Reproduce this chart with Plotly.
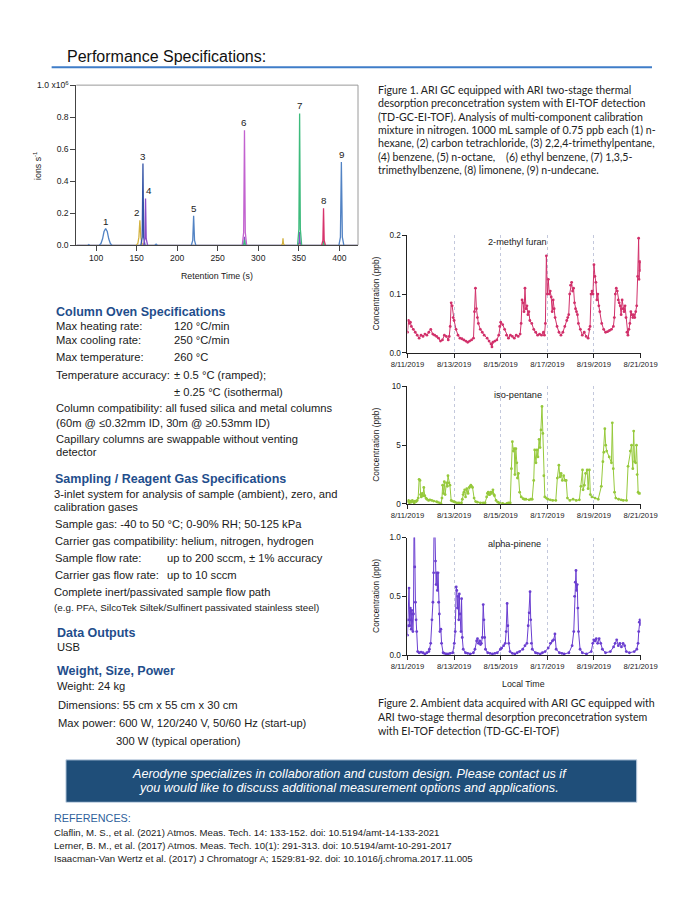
import plotly.graph_objects as go
import pandas as pd

W, H = 700, 906
OFF = 8  # page body margin of the browser
BODY = "Liberation Sans, Arial, sans-serif"
CAP = "Lato, sans-serif"


def px(x):
    return (x - OFF) / W


def py(y):
    return 1 - (y - OFF) / H


# ---------------- Chromatogram data (retention time s, ions/s x1e6) ----------------
chrom_xticks = [100, 150, 200, 250, 300, 350, 400]
chrom_yticks = [0.0, 0.2, 0.4, 0.6, 0.8, 1.0]
chrom_yticktext = ["0.0", "0.2", "0.4", "0.6", "0.8", "1.0 x10<sup>6</sup>"]

base_t = [75.7, 423]
base_v = [0, 0]

blue_t = [90, 91, 92, None, 104, 106, 108, 109.8, 111.8, 113.8, 115.6, 117.6, 119.5, None,
          172.5, 174, 175.5, None, 217.5, 219.2, 220.3, 221.4, 223, None,
          399.5, 401.3, 402.5, 403.7, 405.5]
blue_v = [0, 0.004, 0, None, 0, 0.01, 0.04, 0.085, 0.103, 0.085, 0.04, 0.01, 0, None,
          0, 0.007, 0, None, 0, 0.03, 0.183, 0.03, 0, None,
          0, 0.05, 0.52, 0.05, 0]
dblue_t = [155.3, 156.9, 157.8, 158.7, 160.3]
dblue_v = [0, 0.05, 0.51, 0.05, 0]
gold_t = [149.5, 151.5, 152.8, 154, 155.2, 156.5, 158.5, None,
          328.8, 330, 330.5, 331, 332.2, None, 349.8, 351, 352.2]
gold_v = [0, 0.01, 0.05, 0.156, 0.05, 0.01, 0, None,
          0, 0.01, 0.043, 0.01, 0, None, 0, 0.02, 0]
purple_t = [158.5, 160.2, 161, 161.8, 163.5, None, 281, 282.4, 283, 283.6, 285, None,
            348.8, 350.4, 351, 351.6, 353.2]
purple_v = [0, 0.04, 0.292, 0.04, 0, None, 0, 0.01, 0.053, 0.01, 0, None,
            0, 0.015, 0.082, 0.015, 0]
orchid_t = [280.3, 282, 283, 284, 285.7]
orchid_v = [0, 0.08, 0.718, 0.08, 0]
green_t = [281, 282.5, 283.1, 283.7, 285, None, 348.5, 350.1, 351, 351.9, 353.5, None,
           378.8, 380, 380.6, 381.2, 382.4]
green_v = [0, 0.006, 0.033, 0.006, 0, None, 0, 0.1, 0.823, 0.1, 0, None,
           0, 0.005, 0.025, 0.005, 0]
crimson_t = [378.2, 379.7, 380.5, 381.3, 382.8]
crimson_v = [0, 0.03, 0.23, 0.03, 0]

peak_labels = ["1", "2", "3", "4", "5", "6", "7", "8", "9"]
peak_times = [111.8, 154, 157.8, 161, 220.3, 283, 351, 380.5, 402.5]
peak_heights = [0.103, 0.156, 0.51, 0.292, 0.183, 0.718, 0.823, 0.23, 0.52]

# ---------------- Ambient time series (hours since 2019-08-11 00:00, ppb) ----------------
furan_hours = [
    0, 1, 2, 3, 4, 6, 8, 10, 12, 14,
    16, 18, 20, 22, 24, 26, 28, 30, 32, 34,
    36, 38, 40, 42, 43, 44, 45, 46, 47, 48,
    50, 52, 54, 56, 58, 60, 62, 64, 66, 68,
    69, 70, 71, 72, 73, 75, 77, 79, 82, 84,
    86, 87, 88, 90, 92, 94, 95, 96, 98, 100,
    102, 104, 106, 108, 110, 112, 114, 116, 117, 118,
    119, 120, 121, 122, 123, 124, 125, 126, 128, 130,
    132, 134, 136, 138, 140, 141, 142, 143, 144, 145,
    146, 147, 148, 149, 150, 151, 152, 154, 156, 158,
    160, 162, 164, 165, 166, 167, 168, 169, 170, 171,
    172, 173, 174, 175, 176, 178, 180, 182, 184, 186,
    187, 188, 189, 190, 191, 192, 193, 194, 195, 196,
    197, 198, 200, 202, 204, 206, 208, 210, 212, 213,
    214, 215, 216, 217, 218, 219, 220, 221, 222, 223,
    224, 225, 226, 227, 228, 229, 230, 231, 232, 233,
    234, 235, 236, 237, 238, 238.5, 239, 239.5, 240]
furan_ppb = [
    0.035, 0.055, 0.05, 0.052, 0.045, 0.04, 0.035, 0.03, 0.025, 0.03,
    0.028, 0.032, 0.03, 0.035, 0.04, 0.032, 0.03, 0.028, 0.025, 0.02,
    0.022, 0.03, 0.028, 0.022, 0.028, 0.045, 0.085, 0.08, 0.06, 0.055,
    0.04, 0.03, 0.025, 0.024, 0.022, 0.02, 0.018, 0.02, 0.022, 0.025,
    0.07, 0.11, 0.075, 0.06, 0.05, 0.04, 0.035, 0.03, 0.025, 0.02,
    0.015, 0.01, 0.018, 0.02, 0.022, 0.03, 0.045, 0.052, 0.048, 0.04,
    0.03, 0.025, 0.03, 0.028, 0.025, 0.03, 0.028, 0.032, 0.05, 0.09,
    0.085, 0.07, 0.11, 0.075, 0.08, 0.065, 0.07, 0.055, 0.05, 0.04,
    0.035, 0.03, 0.032, 0.03, 0.035, 0.03, 0.05, 0.165, 0.1, 0.125,
    0.1, 0.105, 0.095, 0.07, 0.09, 0.075, 0.06, 0.045, 0.035, 0.03,
    0.035, 0.045, 0.055, 0.06, 0.065, 0.1, 0.115, 0.12, 0.105, 0.11,
    0.085, 0.075, 0.07, 0.065, 0.05, 0.04, 0.03, 0.035, 0.028, 0.025,
    0.04, 0.045, 0.1, 0.105, 0.1, 0.15, 0.13, 0.12, 0.09, 0.1,
    0.08, 0.07, 0.05, 0.04, 0.035, 0.036, 0.038, 0.04, 0.045, 0.06,
    0.1, 0.11, 0.105, 0.09, 0.085, 0.08, 0.065, 0.09, 0.075, 0.07,
    0.08, 0.06, 0.035, 0.03, 0.04, 0.05, 0.07, 0.065, 0.06, 0.065,
    0.06, 0.07, 0.08, 0.13, 0.195, 0.125, 0.155, 0.14, 0.155]

iso_hours = [
    0, 1, 2, 3, 4, 5, 6, 7, 8, 9,
    10, 11, 12, 12.9, 13.5, 14.2, 15.2, 16, 16.8, 17.8,
    19, 20, 21.7, 23, 25, 27, 29.8, 31, 33, 34.6,
    35.5, 36.2, 37, 37.9, 38.8, 40.1, 41, 41.7, 42.7, 43.7,
    45, 46, 47.6, 49, 50.8, 53, 55.6, 56.5, 57.3, 58.1,
    58.9, 59.8, 61.1, 62.4, 63.7, 64.5, 65.3, 66, 67, 68.6,
    70.2, 72, 75.1, 78, 79.9, 81.5, 82.3, 83.1, 84, 84.8,
    85.6, 86.4, 87.2, 88, 89, 89.6, 91.2, 93, 94.5, 98,
    102.5, 104, 105.8, 107, 108, 109, 110, 110.6, 111.6, 112.6,
    113.2, 114.2, 115.5, 117.1, 119, 120.3, 122, 125.2, 127, 128.4,
    130, 131, 132.3, 133.3, 134.3, 135.5, 136.5, 137.5, 138.5, 139.4,
    140.4, 141.4, 143, 144.6, 147, 149.5, 152.7, 154.3, 155.9, 156.9,
    158.2, 159.5, 160.8, 162.4, 163.4, 164.7, 167.2, 170.5, 173.7, 177,
    178.6, 180.2, 180.8, 182.1, 183.4, 185, 186, 187.3, 188.3, 189.9,
    193.1, 196.4, 199.6, 201.2, 202.2, 203.2, 204.1, 205.1, 207.7, 210,
    210.9, 211.9, 213.2, 214.5, 217.4, 220, 222.2, 225.5, 227.1, 229.4,
    230.7, 232, 232.9, 233.9, 234.9, 235.8, 236.5, 237.5, 238.4, 240]
iso_ppb = [
    0.2, 0.3, 0.1, 0.25, 0.15, 0.3, 0.2, 0.1, 0.25, 0.2,
    0.3, 0.5, 2.1, 2.0, 0.8, 0.6, 0.9, 0.7, 1.4, 0.7,
    0.5, 0.4, 0.3, 0.35, 0.3, 0.25, 0.2, 0.15, 0.1, 0.0,
    0.5, 1.6, 0.9, 1.9, 0.8, 1.8, 1.5, 2.4, 1.8, 1.6,
    0.3, 0.25, 0.2, 0.15, 0.1, 0.1, 0.1, 0.4, 0.8, 1.0,
    1.2, 0.6, 1.3, 0.9, 1.4, 1.5, 1.6, 1.5, 1.4, 0.5,
    0.2, 0.15, 0.1, 0.1, 0.1, 0.6, 0.9, 1.0, 0.8, 0.8,
    1.0, 0.9, 1.0, 1.2, 0.8, 0.7, 0.3, 0.15, 0.1, 0.05,
    0.05, 0.1, 0.1, 3.0, 5.3, 4.5, 4.7, 2.5, 4.7, 3.5,
    2.2, 2.6, 1.0, 0.6, 0.45, 0.4, 0.4, 0.35, 0.4, 0.4,
    2.0, 4.6, 3.5, 4.6, 4.0, 5.5, 4.8, 6.3, 8.3, 6.0,
    2.4, 0.6, 0.5, 0.4, 0.35, 0.3, 0.3, 2.2, 3.3, 2.3,
    2.6, 2.0, 2.4, 2.0, 2.0, 0.5, 0.3, 0.4, 0.3, 0.35,
    1.5, 2.9, 1.2, 1.6, 2.6, 2.9, 1.3, 2.9, 0.8, 0.6,
    0.5, 0.4, 1.5, 3.6, 4.4, 6.4, 5.0, 4.5, 4.0, 3.5,
    6.9, 3.0, 1.0, 0.5, 0.4, 0.35, 0.3, 0.3, 3.2, 4.5,
    5.0, 3.0, 6.2, 3.6, 3.5, 5.0, 2.5, 1.0, 0.9, 0.9]

pinene_hours = [
    0, 0.5, 1, 1.6, 2.3, 3, 3.5, 3.9, 4.4, 4.9,
    5.6, 6.2, 6.9, 7.5, 8.2, 8.9, 9.5, 10.5, 12, 14,
    16, 18, 20, 22, 22.6, 23.9, 25.2, 26.2, 26.9, 27.5,
    28.2, 28.9, 29.5, 30.2, 30.8, 31.5, 32.1, 32.8, 33.4, 34.4,
    35.1, 36.7, 38, 40, 42, 44, 46.6, 48.2, 49.2, 50.2,
    50.8, 51.5, 52.1, 52.8, 53.4, 54.1, 55.1, 55.7, 56.4, 57.4,
    59.7, 62, 64.6, 67.9, 69.5, 71.2, 72.1, 73.1, 74.4, 75.2,
    76.1, 77.1, 78, 78.7, 79.4, 80.3, 82.6, 85, 87.5, 90,
    92.5, 95.7, 97, 99, 100.7, 101.6, 102.6, 103.3, 104.3, 105.6,
    108, 110.5, 113, 115.4, 118.7, 121, 123, 124.3, 125.3, 126.2,
    126.9, 127.6, 128.5, 131.8, 134, 136.7, 139, 141.7, 144.9, 147.2,
    149.2, 150.5, 151.8, 153.1, 156.4, 159, 161.3, 166.2, 169.5, 171.2,
    172.1, 172.8, 173.5, 174.1, 174.8, 175.4, 176.1, 177.7, 180, 184.3,
    189.2, 190.8, 191.8, 193.1, 194.4, 195.8, 197.4, 199, 200.7, 203.9,
    208.9, 212.2, 213.8, 215.4, 217.1, 218.7, 220.3, 222, 223.6, 225.3,
    228.5, 233.5, 236.1, 237.4, 238.1, 238.7, 239.4, 240]
pinene_ppb = [
    0.17, 0.3, 0.25, 0.57, 0.25, 0.4, 0.3, 0.22, 0.38, 0.35,
    0.2, 0.35, 1.3, 0.75, 0.45, 0.3, 0.2, 0.03, 0.02, 0.025,
    0.02, 0.01, 0.02, 0.03, 0.05, 0.1, 0.3, 0.45, 0.7, 1.2,
    1.1, 0.8, 0.6, 0.7, 0.55, 0.7, 0.45, 0.35, 0.2, 0.22,
    0.1, 0.02, 0.015, 0.01, 0.01, 0.015, 0.02, 0.1, 0.2, 0.58,
    0.55, 0.4, 0.5, 0.3, 0.52, 0.35, 0.2, 0.48, 0.15, 0.05,
    0.02, 0.015, 0.01, 0.02, 0.05, 0.12, 0.14, 0.1, 0.12, 0.09,
    0.1, 0.15, 0.43, 0.3, 0.15, 0.05, 0.02, 0.015, 0.01, 0.015,
    0.02, 0.05, 0.06, 0.08, 0.1, 0.2, 0.44, 0.25, 0.1, 0.03,
    0.015, 0.01, 0.02, 0.03, 0.05, 0.08, 0.1, 0.25, 0.36, 0.54,
    0.3, 0.1, 0.05, 0.02, 0.015, 0.01, 0.02, 0.03, 0.06, 0.1,
    0.12, 0.13, 0.18, 0.05, 0.02, 0.015, 0.01, 0.02, 0.08, 0.2,
    0.5, 0.62, 0.72, 0.55, 0.6, 0.4, 0.2, 0.05, 0.02, 0.01,
    0.03, 0.1, 0.13, 0.12, 0.14, 0.1, 0.14, 0.1, 0.05, 0.02,
    0.03, 0.07, 0.1, 0.13, 0.08, 0.1, 0.07, 0.1, 0.08, 0.03,
    0.02, 0.03, 0.05, 0.1, 0.2, 0.28, 0.3, 0.26]

series_start = "2019-08-11"
series_end = "2019-08-21"

# ---------------- Text content ----------------
fig1_caption = [
    "Figure 1. ARI GC equipped with ARI two-stage thermal",
    "desorption preconcetration system with EI-TOF detection",
    "(TD-GC-EI-TOF). Analysis of multi-component calibration",
    "mixture in nitrogen. 1000 mL sample of 0.75 ppb each (1) n-",
    "hexane, (2) carbon tetrachloride, (3) 2,2,4-trimethylpentane,",
    "(4) benzene, (5) n-octane,&nbsp;&nbsp;&nbsp;&nbsp;(6) ethyl benzene, (7) 1,3,5-",
    "trimethylbenzene, (8) limonene, (9) n-undecane.",
]
fig2_caption = [
    "Figure 2. Ambient data acquired with ARI GC equipped with",
    "ARI two-stage thermal desorption preconcetration system",
    "with EI-TOF detection (TD-GC-EI-TOF)",
]
references = [
    "Claflin, M. S., et al. (2021) Atmos. Meas. Tech. 14: 133-152. doi: 10.5194/amt-14-133-2021",
    "Lerner, B. M., et al. (2017) Atmos. Meas. Tech. 10(1): 291-313. doi: 10.5194/amt-10-291-2017",
    "Isaacman-Van Wertz et al. (2017) J Chromatogr A; 1529:81-92. doi: 10.1016/j.chroma.2017.11.005",
]

fig = go.Figure()

# ---------------- Chromatogram traces ----------------
chrom_series = [
    (base_t, base_v, "#8e8aa6"),
    (gold_t, gold_v, "#d3b23f"),
    (blue_t, blue_v, "#5283c4"),
    (dblue_t, dblue_v, "#3353a6"),
    (purple_t, purple_v, "#8a4cc6"),
    (orchid_t, orchid_v, "#c262cf"),
    (green_t, green_v, "#3dbb7c"),
    (crimson_t, crimson_v, "#d7336c"),
]
for t, v, c in chrom_series:
    fig.add_trace(go.Scatter(x=t, y=v, mode="lines", line=dict(color=c, width=1.3),
                             xaxis="x", yaxis="y", hoverinfo="skip", connectgaps=False))

# ---------------- Ambient traces ----------------
t0 = pd.Timestamp(series_start)
ts_series = [
    (furan_hours, furan_ppb, "#d1306a", "x2", "y2"),
    (iso_hours, iso_ppb, "#96c93c", "x3", "y3"),
    (pinene_hours, pinene_ppb, "#6a3ed0", "x4", "y4"),
]
for hrs, vals, c, xa, ya in ts_series:
    times = t0 + pd.to_timedelta(hrs, unit="h")
    fig.add_trace(go.Scatter(x=times, y=vals, mode="lines+markers",
                             line=dict(color=c, width=1), marker=dict(color=c, size=2.8),
                             xaxis=xa, yaxis=ya, hoverinfo="skip"))

# ---------------- Axes ----------------
ax_common = dict(ticks="outside", showline=True, zeroline=False, showgrid=False,
                 linewidth=1, fixedrange=True)
fig.update_layout(
    xaxis=dict(domain=[px(62), px(358)], range=[75.7, 423], tickvals=chrom_xticks,
               ticklen=5, tickcolor="#444", linecolor="#444", anchor="y",
               tickfont=dict(size=8.6, color="#222"), **ax_common),
    yaxis=dict(domain=[py(242), py(80)], range=[0, 1.0], tickvals=chrom_yticks,
               ticktext=chrom_yticktext, ticklen=5, tickcolor="#444", linecolor="#444",
               anchor="x", tickfont=dict(size=8.6, color="#222"), **ax_common),
)

panel_rows = [(232, 351, [0, 0.2], 0.1, ".1f"), (385, 504, [0, 10], 5, "d"),
              (538, 657, [0, 1.0], 0.5, ".1f")]
for i, (top, bot, yr, dt, fmt) in enumerate(panel_rows):
    n = i + 2
    fig.update_layout(**{
        f"xaxis{n}": dict(domain=[px(410), px(655)], anchor=f"y{n}", type="date",
                          range=[series_start, series_end], tick0=series_start,
                          dtick=2 * 86400000, tickformat="%-m/%-d/%Y", ticks="outside",
                          ticklen=4, tickcolor="#222", showline=True, linecolor="#222",
                          linewidth=1, zeroline=False, showgrid=True, gridcolor="#c3c8dc",
                          griddash="dot", gridwidth=1,
                          tickfont=dict(size=7.7, color="#222"), fixedrange=True),
        f"yaxis{n}": dict(domain=[py(bot), py(top)], anchor=f"x{n}", range=yr, dtick=dt,
                          tick0=0, tickformat=fmt, ticklen=4, tickcolor="#222",
                          linecolor="#222", tickfont=dict(size=8.2, color="#222"),
                          **ax_common),
    })

# ---------------- Annotations ----------------
ann = []


def T(x, y, text, size=11.2, color="#1a1a1a", xanchor="left", family=BODY, **kw):
    ann.append(dict(x=px(x), y=py(y), xref="paper", yref="paper", text=text,
                    showarrow=False, xanchor=xanchor, yanchor="middle",
                    font=dict(size=size, color=color, family=family), **kw))


# Title
T(50, 50.7, "Performance Specifications:", size=16, color="#111")

# Chromatogram labels
T(20.7, 161.7, "ions s<sup>-1</sup>", size=8.8, xanchor="center", textangle=-90)
T(210, 273.5, "Retention Time (s)", size=8.8, xanchor="center")
label_dx = [0, -3.5, 0, 3, 0, 0, 0, 0, 0]
for lab, t, h, dx in zip(peak_labels, peak_times, peak_heights, label_dx):
    ann.append(dict(x=t, y=h, xref="x", yref="y", text=lab, showarrow=False,
                    xanchor="center", yanchor="middle", xshift=dx, yshift=7.5,
                    font=dict(size=9.8, color="#222", family=BODY)))

# Figure 1 caption
for k, line in enumerate(fig1_caption):
    T(376.7, 85 + 13.5 * k, line, size=10.6, color="#222", family=CAP)

# Panels labels
T(525.5, 239, "2-methyl furan", size=9.2, xanchor="center")
T(525.8, 393.3, "iso-pentane", size=9.2, xanchor="center")
T(522, 545, "alpha-pinene", size=9.2, xanchor="center")
for yc in [291.5, 444.5, 597.5]:
    T(377.5, yc, "Concentration (ppb)", size=8.4, xanchor="center", textangle=-90)
T(531.7, 686.7, "Local Time", size=8.8, xanchor="center")

# Figure 2 caption
for k, line in enumerate(fig2_caption):
    T(376.7, 705 + 14.5 * k, line, size=10.6, color="#222", family=CAP)

# Left column specification text
HEAD = "#1f4e8c"
T(38.3, 310, "<b>Column Oven Specifications</b>", size=12.5, color=HEAD)
T(39, 324.3, "Max heating rate:")
T(162.7, 324.3, "120 °C/min")
T(39, 338.3, "Max cooling rate:")
T(162.7, 338.3, "250 °C/min")
T(39, 355.7, "Max temperature:")
T(162.7, 355.7, "260 °C")
T(39, 373.3, "Temperature accuracy:")
T(162.7, 373.3, "± 0.5 °C (ramped);")
T(162.7, 390.7, "± 0.25 °C (isothermal)")
T(39, 406.7, "Column compatibility: all fused silica and metal columns")
T(39, 421.7, "(60m @ ≤0.32mm ID, 30m @ ≥0.53mm ID)")
T(39, 438.3, "Capillary columns are swappable without venting")
T(39, 451.7, "detector")

T(37.3, 478.3, "<b>Sampling / Reagent Gas Specifications</b>", size=12.5, color=HEAD)
T(36, 494, "3-inlet system for analysis of sample (ambient), zero, and")
T(36, 506.7, "calibration gases")
T(37.3, 524, "Sample gas: -40 to 50 °C; 0-90% RH; 50-125 kPa")
T(37.3, 541, "Carrier gas compatibility: helium, nitrogen, hydrogen")
T(37.3, 558.3, "Sample flow rate:")
T(155, 558.3, "up to 200 sccm, ± 1% accuracy")
T(37.3, 575.7, "Carrier gas flow rate:")
T(155, 575.7, "up to 10 sccm")
T(36, 592.7, "Complete inert/passivated sample flow path")
T(36, 609, "(e.g. PFA, SilcoTek Siltek/Sulfinert passivated stainless steel)", size=9.8)

T(40, 634.3, "<b>Data Outputs</b>", size=12.5, color=HEAD)
T(40, 649, "USB")
T(40, 673, "<b>Weight, Size, Power</b>", size=12.5, color=HEAD)
T(40, 688.3, "Weight: 24 kg")
T(40.7, 707.3, "Dimensions: 55 cm x 55 cm x 30 cm")
T(40.7, 726, "Max power: 600 W, 120/240 V, 50/60 Hz (start-up)")
T(101.7, 744, "300 W (typical operation)")

# Banner text
T(349, 777, "<i>Aerodyne specializes in collaboration and custom design. Please contact us if</i>",
  size=12.6, color="white", xanchor="center")
T(349, 791.5, "<i>you would like to discuss additional measurement options and applications.</i>",
  size=12.6, color="white", xanchor="center")

# References
T(36, 822, "REFERENCES:", size=10.8, color="#2f5f9c")
for k, line in enumerate(references):
    T(36, 837 + 12.8 * k, line, size=9.6, color="#1a1a1a")

# ---------------- Shapes ----------------
shapes = [
    dict(type="line", xref="paper", yref="paper", x0=px(36), x1=px(667), y0=py(62), y1=py(62),
         line=dict(color="#3f7dc8", width=2)),
    dict(type="line", xref="paper", yref="paper", x0=px(62), x1=px(358), y0=py(80), y1=py(80),
         line=dict(color="#9a9a9a", width=1)),
    dict(type="line", xref="paper", yref="paper", x0=px(358), x1=px(358), y0=py(80), y1=py(242),
         line=dict(color="#9a9a9a", width=1)),
    dict(type="rect", xref="paper", yref="paper", x0=px(51), x1=px(651), y0=py(806), y1=py(763),
         fillcolor="#1f4e79", line=dict(color="#c9d7e8", width=1), layer="below"),
]

fig.update_layout(
    width=W, height=H, margin=dict(l=0, r=0, t=0, b=0),
    paper_bgcolor="white", plot_bgcolor="white", showlegend=False,
    font=dict(family=BODY, size=9, color="#222"),
    annotations=ann, shapes=shapes,
)

fig.write_html("out.html")
